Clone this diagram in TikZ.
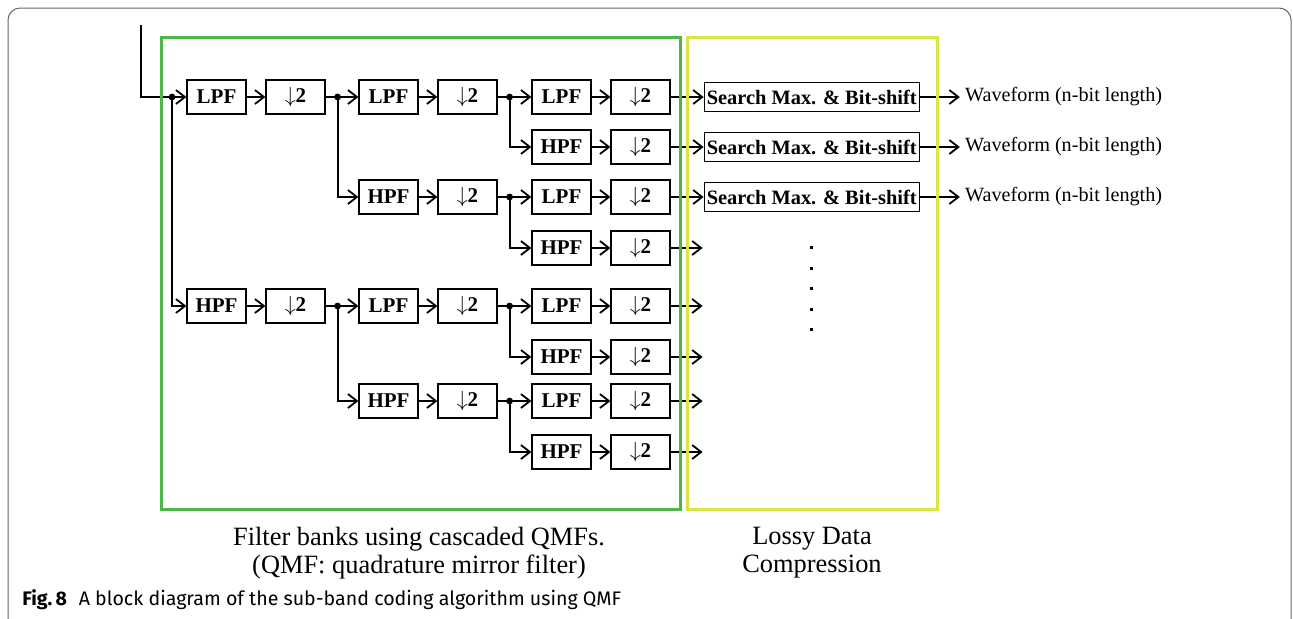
\documentclass[tikz,border=0pt]{standalone}
\usepackage{fontspec}
\setmainfont{Liberation Serif}
\newfontfamily\capfont{Fira Sans}
\usetikzlibrary{arrows.meta,positioning}
\definecolor{qmfgreen}{RGB}{76,183,72}
\definecolor{lossyyellow}{RGB}{216,229,68}

\begin{document}
\begin{tikzpicture}[x=0.5pt, y=-0.5pt, >={Straight Barb[length=4.5pt,width=7pt]},
	box/.style={draw, line width=0.6pt, minimum width=29.5pt, minimum height=17pt, inner sep=0pt, font=\fontsize{10.5}{12}\selectfont\bfseries},
	sbox/.style={box, minimum width=107.5pt, minimum height=14.5pt, font=\fontsize{10.2}{12}\selectfont\bfseries},
	wire/.style={line width=0.9pt},
	wave/.style={inner sep=2.5pt, font=\fontsize{10.1}{12}\selectfont},
	note/.style={align=center, font=\fontsize{13.2}{14}\selectfont}]
	\useasboundingbox (0,0) rectangle (1293,618);
	\draw[black!60, line width=0.5pt, rounded corners=6pt] (8,8) rectangle (1291,640);
	% first stage
	\foreach \n/\y in {L/97, H/306} {
		\node[box] (f\n) at (216.5,\y) {\n PF};
		\node[box] (d\n) at (295.5,\y) {$\downarrow$2};
		\draw[wire,->] (f\n) -- (d\n);
	}
	% second stage
	\foreach \n/\t/\y in {LL/L/97, LH/H/197, HL/L/306, HH/H/401} {
		\node[box] (f\n) at (388.5,\y) {\t PF};
		\node[box] (d\n) at (467.5,\y) {$\downarrow$2};
		\draw[wire,->] (f\n) -- (d\n);
	}
	% third stage
	\foreach \n/\t/\y in {LLL/L/97, LLH/H/147, LHL/L/197, LHH/H/248, HLL/L/306, HLH/H/357, HHL/L/401, HHH/H/452} {
		\node[box] (f\n) at (561.5,\y) {\t PF};
		\node[box] (d\n) at (640.5,\y) {$\downarrow$2};
		\draw[wire,->] (f\n) -- (d\n);
	}
	% input and splits
	\coordinate (in) at (141,25);
	\coordinate (j0) at (172,97);
	\draw[wire] (in) |- (j0);
	\draw[wire,->] (j0) -- (fL);
	\draw[wire,->] (j0) |- (fH);
	\fill (j0) circle (1.7pt);
	\foreach \p in {L,H,LL,LH,HL,HH} {
		\draw[wire] (d\p.east) -- ++(12,0) coordinate (j\p);
		\draw[wire,->] (j\p) -- (f\p L);
		\draw[wire,->] (j\p) |- (f\p H);
		\fill (j\p) circle (1.7pt);
	}
	% lossy compression
	\foreach \n in {LLL,LLH,LHL} {
		\node[sbox, right=16.5pt of d\n] (s\n) {Search Max. \& Bit-shift};
		\node[wave, right=20pt of s\n] (w\n) {Waveform (n-bit length)};
		\draw[wire,->] (d\n) -- (s\n);
		\draw[wire,->] (s\n) -- (w\n);
	}
	\foreach \n in {LHH,HLL,HLH,HHL,HHH}
		\draw[wire,->] (d\n.east) -- ++(32,0) coordinate (o\n);
	\foreach \y in {247,268,288,309,329}
		\fill (809.5,\y-1.5) rectangle ++(3,3);
	\draw[qmfgreen, line width=1.5pt] (161,37) rectangle (680,509);
	\draw[lossyyellow, line width=1.5pt] (687,37) rectangle (937,509);
	\node[note] (fbtext) at (419,553) {Filter banks using cascaded QMFs.\\ (QMF: quadrature mirror filter)};
	\node[note] (ldtext) at (812,553) {Lossy Data\\Compression};
	\node[anchor=west, inner sep=0pt, font=\capfont\fontsize{9.8}{12}\selectfont] (figcap) at (22,600) {\textbf{Fig.\,8}\hspace{0.6em}A block diagram of the sub-band coding algorithm using QMF};
\end{tikzpicture}
\end{document}
